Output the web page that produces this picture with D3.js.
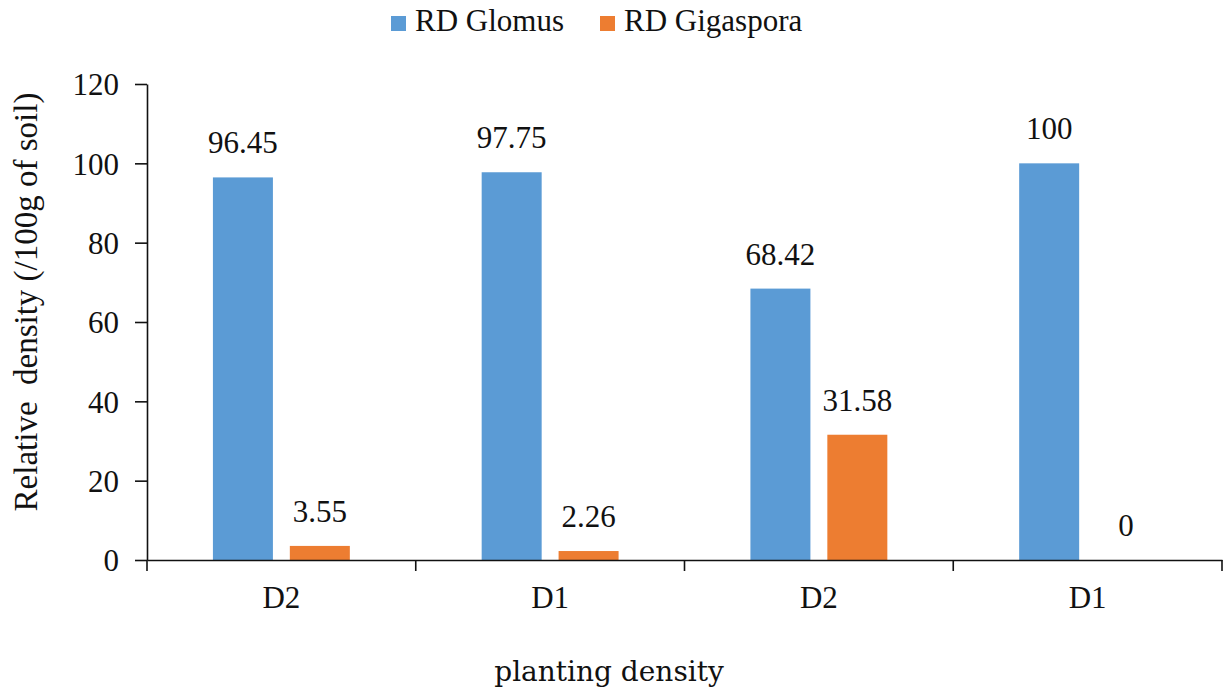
<!DOCTYPE html>
<html>
<head>
<meta charset="utf-8">
<script src="https://cdn.jsdelivr.net/npm/d3@7"></script>
<style>
  html, body { margin: 0; padding: 0; background: #fff; }
  svg { display: block; }
</style>
</head>
<body>
<script>
const categories = ["D2", "D1", "D2", "D1"];
const seriesNames = ["RD Glomus", "RD Gigaspora"];
const glomus = [96.45, 97.75, 68.42, 100];
const gigaspora = [3.55, 2.26, 31.58, 0];
const valueLabels = [["96.45", "97.75", "68.42", "100"], ["3.55", "2.26", "31.58", "0"]];
const yTicks = [0, 20, 40, 60, 80, 100, 120];
const colors = ["#5B9BD5", "#ED7D31"];

const W = 1224, H = 689;
const margin = { left: 147, right: 2, top: 84, bottom: 129 };
const fs = 31;
const serif = "'Liberation Serif', 'Times New Roman', serif";
const ink = "#111";

const svg = d3.select("body").append("svg").attr("width", W).attr("height", H);

const x = d3.scaleBand().domain(d3.range(categories.length))
  .range([margin.left, W - margin.right]).padding(0);
const x1 = d3.scaleBand().domain(d3.range(seriesNames.length))
  .range([0, x.bandwidth()]).paddingInner(0.22).paddingOuter(0.857);
const y = d3.scaleLinear().domain([0, 120]).range([H - margin.bottom, margin.top]);

const series = [glomus, gigaspora];

function styleText(sel, size) {
  return sel.style("font-family", serif).style("font-size", size + "px").style("fill", ink);
}

// bars
series.forEach((vals, si) => {
  svg.append("g").selectAll("rect").data(vals).join("rect")
    .attr("x", (d, i) => x(i) + x1(si))
    .attr("width", x1.bandwidth())
    .attr("y", d => y(d))
    .attr("height", d => y(0) - y(d))
    .attr("fill", colors[si]);
  styleText(svg.append("g").selectAll("text").data(vals).join("text")
    .attr("x", (d, i) => x(i) + x1(si) + x1.bandwidth() / 2)
    .attr("y", d => y(d) - 24)
    .attr("text-anchor", "middle")
    .text((d, i) => valueLabels[si][i]), fs);
});

// y axis
const yAxis = svg.append("g").attr("transform", `translate(${margin.left},0)`)
  .call(d3.axisLeft(y).tickValues(yTicks).tickSize(12).tickSizeOuter(0).tickPadding(16));
yAxis.select(".domain").attr("stroke", ink).attr("stroke-width", 1.6);
yAxis.selectAll(".tick line").attr("stroke", ink).attr("stroke-width", 1.6);
styleText(yAxis.selectAll(".tick text"), fs).attr("dy", "0.35em");

// x axis (labels at centers, ticks at boundaries)
const xAxis = svg.append("g").attr("transform", `translate(0,${y(0)})`)
  .call(d3.axisBottom(x).tickFormat(i => categories[i]).tickSize(0).tickSizeOuter(0).tickPadding(26));
xAxis.select(".domain").attr("stroke", ink).attr("stroke-width", 1.6);
styleText(xAxis.selectAll(".tick text"), fs);
const bounds = d3.range(categories.length + 1).map(i => i < categories.length ? x(i) : x(i - 1) + x.bandwidth());
svg.append("g").selectAll("line").data(bounds).join("line")
  .attr("x1", d => d).attr("x2", d => d)
  .attr("y1", y(0)).attr("y2", y(0) + 11)
  .attr("stroke", ink).attr("stroke-width", 1.6);

// axis titles
styleText(svg.append("text")
  .attr("transform", `translate(37,302) rotate(-90)`)
  .attr("text-anchor", "middle")
  .style("white-space", "pre")
  .text("Relative  density (/100g of soil)"), 33);
svg.append("text")
  .attr("x", 609).attr("y", 681)
  .attr("text-anchor", "middle")
  .style("font-family", "'DejaVu Serif', serif").style("font-size", "28px").style("fill", ink)
  .text("planting density");

// legend
const legendX = [391, 600];
seriesNames.forEach((name, si) => {
  svg.append("rect").attr("x", legendX[si]).attr("y", 16).attr("width", 15).attr("height", 15).attr("fill", colors[si]);
  styleText(svg.append("text").attr("x", legendX[si] + 24).attr("y", 31).text(name), fs);
});
</script>
</body>
</html>
